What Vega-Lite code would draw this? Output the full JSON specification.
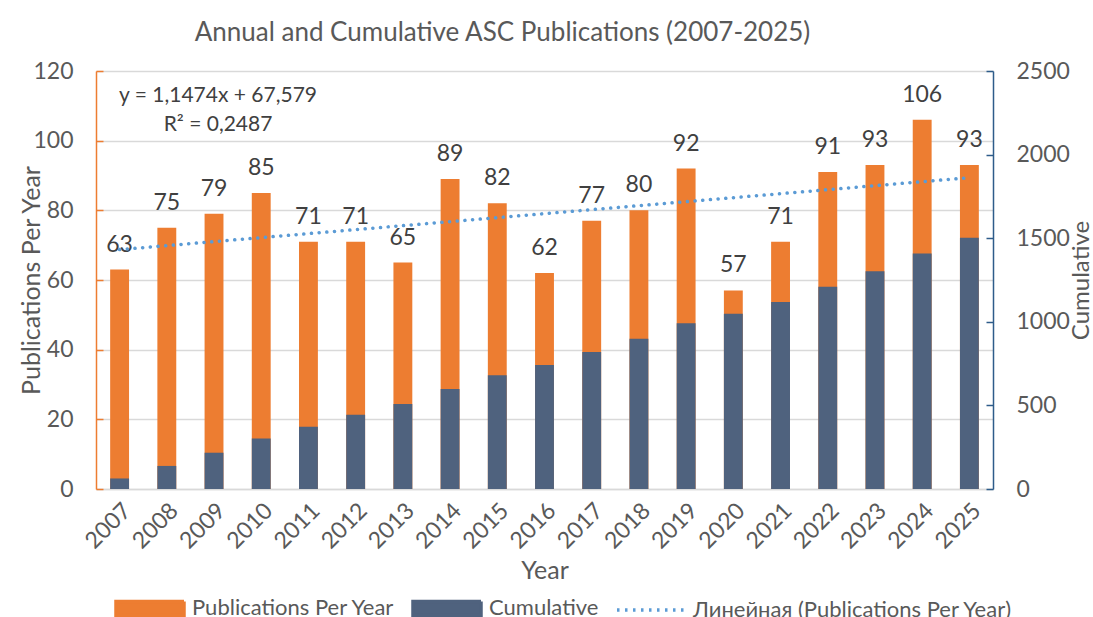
{
  "$schema": "https://vega.github.io/schema/vega-lite/v6.json",
  "width": 897,
  "height": 418,
  "autosize": {"type": "none"},
  "padding": {"left": 96, "top": 71, "right": 100, "bottom": 128},
  "background": "white",
  "config": {"view": {"stroke": null}, "font": "Lato"},
  "title": {
    "text": "Annual and Cumulative ASC Publications (2007-2025)",
    "font": "Lato",
    "fontSize": 26,
    "fontWeight": "normal",
    "color": "#595959",
    "dx": -42,
    "offset": 14
  },
  "data": {
    "values": [
      {"year": 2007, "pubs": 63, "cum": 63},
      {"year": 2008, "pubs": 75, "cum": 138},
      {"year": 2009, "pubs": 79, "cum": 217},
      {"year": 2010, "pubs": 85, "cum": 302},
      {"year": 2011, "pubs": 71, "cum": 373},
      {"year": 2012, "pubs": 71, "cum": 444},
      {"year": 2013, "pubs": 65, "cum": 509},
      {"year": 2014, "pubs": 89, "cum": 598},
      {"year": 2015, "pubs": 82, "cum": 680},
      {"year": 2016, "pubs": 62, "cum": 742},
      {"year": 2017, "pubs": 77, "cum": 819},
      {"year": 2018, "pubs": 80, "cum": 899},
      {"year": 2019, "pubs": 92, "cum": 991},
      {"year": 2020, "pubs": 57, "cum": 1048},
      {"year": 2021, "pubs": 71, "cum": 1119},
      {"year": 2022, "pubs": 91, "cum": 1210},
      {"year": 2023, "pubs": 93, "cum": 1303},
      {"year": 2024, "pubs": 106, "cum": 1409},
      {"year": 2025, "pubs": 93, "cum": 1502}
    ]
  },
  "encoding": {
    "x": {
      "field": "year",
      "type": "ordinal",
      "scale": {"paddingInner": 0.6, "paddingOuter": 0.3},
      "axis": {
        "labelAngle": -45,
        "labelFont": "Lato",
        "labelFontSize": 23,
        "labelColor": "#595959",
        "ticks": false,
        "labelPadding": 10,
        "domainColor": "#d9d9d9",
        "domainWidth": 1.5,
        "title": "Year",
        "titleFont": "Lato",
        "titleFontSize": 25,
        "titleFontWeight": "normal",
        "titleColor": "#595959",
        "titlePadding": 6
      }
    }
  },
  "layer": [
    {
      "layer": [
        {
          "mark": {"type": "bar", "opacity": 1},
          "encoding": {
            "y": {
              "field": "pubs",
              "type": "quantitative",
              "scale": {"domain": [0, 120]},
              "axis": {
                "orient": "left",
                "values": [0, 20, 40, 60, 80, 100, 120],
                "domainColor": "#ED7D31",
                "domainWidth": 1.5,
                "tickColor": "#ED7D31",
                "tickWidth": 1.5,
                "tickSize": -7,
                "labelFont": "Lato",
                "labelFontSize": 23,
                "labelColor": "#595959",
                "labelPadding": 30,
                "grid": true,
                "gridColor": "#d9d9d9",
                "gridWidth": 1.5,
                "title": "Publications Per Year",
                "titleFont": "Lato",
                "titleFontSize": 25,
                "titleFontWeight": "normal",
                "titleColor": "#595959",
                "titlePadding": -12
              }
            },
            "color": {
              "datum": "Publications Per Year",
              "scale": {
                "domain": ["Publications Per Year", "Cumulative", "Линейная (Publications Per Year)"],
                "range": ["#ED7D31", "#4F627E", "#5B9BD5"]
              },
              "legend": {
                "orient": "none",
                "legendX": 18,
                "legendY": 501,
                "direction": "horizontal",
                "title": null,
                "labelFont": "Lato",
                "labelFontSize": 22,
                "labelColor": "#595959",
                "labelOffset": 6,
                "labelLimit": 500,
                "columnPadding": 11,
                "symbolSize": 4624,
                "symbolOpacity": 1,
                "symbolStrokeWidth": 3.5,
                "symbolType": {"expr": "datum.value === 'Линейная (Publications Per Year)' ? 'M-1,0H1' : 'M-1,-0.206H1V0.206H-1Z'"},
                "symbolDash": {"expr": "datum.value === 'Линейная (Publications Per Year)' ? [2.5, 5.5] : [1, 0]"},
                "symbolStrokeColor": {"expr": "datum.value === 'Линейная (Publications Per Year)' ? '#5B9BD5' : 'transparent'"},
                "symbolFillColor": {"expr": "datum.value === 'Cumulative' ? '#4F627E' : datum.value === 'Publications Per Year' ? '#ED7D31' : 'transparent'"}
              }
            }
          }
        },
        {
          "mark": {"type": "text", "baseline": "bottom", "dy": -13, "fontSize": 23, "font": "Lato", "color": "#404040"},
          "encoding": {
            "y": {"field": "pubs", "type": "quantitative"},
            "text": {"field": "pubs", "type": "quantitative"}
          }
        },
        {
          "transform": [{"regression": "pubs", "on": "year", "extent": [2007, 2025]}],
          "mark": {"type": "line", "strokeWidth": 3.5, "strokeDash": [0.1, 7.6], "strokeCap": "round"},
          "encoding": {
            "x": {"field": "year", "type": "ordinal"},
            "y": {"field": "pubs", "type": "quantitative"},
            "color": {"datum": "Линейная (Publications Per Year)"}
          }
        },
        {
          "data": {"values": [{"label": "trend"}]},
          "mark": {"type": "text", "align": "center", "baseline": "alphabetic", "dx": 4, "fontSize": 21, "font": "Lato", "color": "#404040", "lineHeight": 29},
          "encoding": {
            "x": {"datum": 2009, "type": "ordinal"},
            "y": {"datum": 111.1, "type": "quantitative"},
            "text": {"value": ["y = 1,1474x + 67,579", "R² = 0,2487"]}
          }
        }
      ]
    },
    {
      "mark": {"type": "bar", "opacity": 1},
      "encoding": {
        "y": {
          "field": "cum",
          "type": "quantitative",
          "scale": {"domain": [0, 2500]},
          "axis": {
            "orient": "right",
            "values": [0, 500, 1000, 1500, 2000, 2500],
            "format": "d",
            "domainColor": "#2E5C8A",
            "domainWidth": 1.5,
            "tickColor": "#2E5C8A",
            "tickWidth": 1.5,
            "tickSize": -7,
            "labelFont": "Lato",
            "labelFontSize": 23,
            "labelColor": "#595959",
            "labelPadding": 30,
            "grid": false,
            "title": "Cumulative",
            "titleAngle": -90,
            "titleFont": "Lato",
            "titleFontSize": 24,
            "titleFontWeight": "normal",
            "titleColor": "#595959",
            "titlePadding": 24
          }
        },
        "color": {"datum": "Cumulative"}
      }
    }
  ],
  "resolve": {"scale": {"y": "independent"}}
}
